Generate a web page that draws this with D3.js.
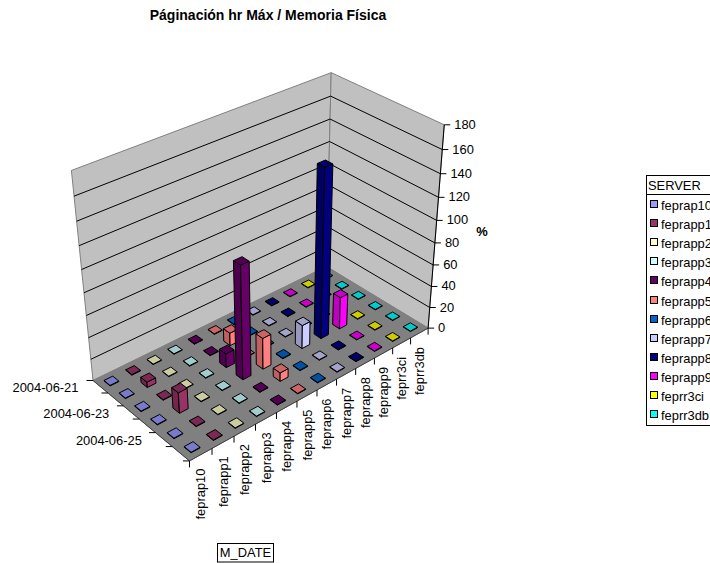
<!DOCTYPE html>
<html>
<head>
<meta charset="utf-8">
<script src="https://cdnjs.cloudflare.com/ajax/libs/d3/7.8.5/d3.min.js"></script>
<style>
html,body{margin:0;padding:0;background:#fff;overflow:hidden}
text{font-family:"Liberation Sans",Arial,sans-serif;fill:#000}
</style>
</head>
<body>
<svg id="chart" width="710" height="563"></svg>
<script>
const servers = ["feprap10","feprapp1","feprapp2","feprapp3","feprapp4","feprapp5","feprapp6","feprapp7","feprapp8","feprapp9","feprr3ci","feprr3db"];
const dates = ["2004-06-21","2004-06-22","2004-06-23","2004-06-24","2004-06-25","2004-06-26"];
const dateLabels = ["2004-06-21","2004-06-23","2004-06-25"];
const palette = ["#9999FF","#993366","#FFFFCC","#CCFFFF","#660066","#FF8080","#0066CC","#CCCCFF","#000080","#FF00FF","#FFFF00","#00FFFF"];

// Percent per day, one list per server, in date order
const feprap10 = [0.5,0.5,0.5,0.5,0.5,0.5];
const feprapp1 = [0.5,5,0.5,19,0.5,0.5];
const feprapp2 = [0.5,0.5,0.5,0.5,0.5,0.5];
const feprapp3 = [0.5,0.5,0.5,0.5,0.5,0.5];
const feprapp4 = [0.5,0.5,13,103,0.5,0.5];
const feprapp5 = [0.5,12,0.5,29,8,0.5];
const feprapp6 = [0.5,0.5,0.5,0.5,0.5,0.5];
const feprapp7 = [0.5,0.5,0.5,22,0.5,0.5];
const feprapp8 = [0.5,0.5,0.5,153,0.5,0.5];
const feprapp9 = [0.5,0.5,0.5,30,0.5,0.5];
const feprr3ci = [0.5,0.5,0.5,0.5,0.5,0.5];
const feprr3db = [0.5,0.5,0.5,0.5,0.5,0.5];
const seriesValues = [feprap10,feprapp1,feprapp2,feprapp3,feprapp4,feprapp5,feprapp6,feprapp7,feprapp8,feprapp9,feprr3ci,feprr3db];

const svg = d3.select("#chart");

// Box corners on screen: u runs along the servers, v along the dates, w up the value axis
const corners = [
  [0,1,0,190,462],[0,0,0,92,379],[1,1,0,427,327],[1,0,0,328,268],
  [0,0,1,72,171],[1,1,1,445,125],[1,0,1,330,72]
];

function solve(A, b) {
  const n = b.length, M = A.map((r,i)=>[...r,b[i]]);
  for (let c=0;c<n;c++) {
    let p=c; for (let r=c+1;r<n;r++) if (Math.abs(M[r][c])>Math.abs(M[p][c])) p=r;
    [M[c],M[p]]=[M[p],M[c]];
    for (let r=0;r<n;r++) if (r!==c) {
      const f=M[r][c]/M[c][c];
      for (let k=c;k<=n;k++) M[r][k]-=f*M[c][k];
    }
  }
  return M.map((r,i)=>r[n]/r[i]);
}

// Least-squares fit of the perspective camera to the visible box corners
function fitCamera(pts) {
  const rows=[], rhs=[];
  pts.forEach(([u,v,w,x,y])=>{
    x/=500; y/=500;
    rows.push([u,v,w,1,0,0,0,0,-x*u,-x*v,-x*w]); rhs.push(x);
    rows.push([0,0,0,0,u,v,w,1,-y*u,-y*v,-y*w]); rhs.push(y);
  });
  const N=d3.range(11).map(i=>d3.range(11).map(j=>d3.sum(rows,r=>r[i]*r[j])));
  const t=d3.range(11).map(i=>d3.sum(rows,(r,k)=>r[i]*rhs[k]));
  return solve(N,t);
}
const cam = fitCamera(corners);
function project(u,v,w) {
  const d = cam[8]*u+cam[9]*v+cam[10]*w+1;
  return [500*(cam[0]*u+cam[1]*v+cam[2]*w+cam[3])/d, 500*(cam[4]*u+cam[5]*v+cam[6]*w+cam[7])/d];
}

const uScale = d3.scaleBand().domain(servers).range([0,1]);
const vScale = d3.scaleBand().domain(dates).range([0,1]);
const zScale = d3.scaleLinear().domain([0,180]).range([0,1]);
const line = d3.line();
const poly = pts => line(pts)+"Z";
const labelSize = 12.9;

const wallLeft = [[0,0,0],[0,0,1],[1,0,1],[1,0,0]].map(p=>project(...p));
const wallRight = [[1,0,0],[1,0,1],[1,1,1],[1,1,0]].map(p=>project(...p));
const floor = [[0,0,0],[1,0,0],[1,1,0],[0,1,0]].map(p=>project(...p));

const g = svg.append("g");
g.selectAll("path.wall").data([wallLeft,wallRight,floor]).join("path")
  .attr("class","wall").attr("d",poly)
  .attr("fill",(d,i)=>i<2?"#C0C0C0":"#808080").attr("stroke","#808080").attr("stroke-width",1);

// Gridlines across both walls
const gridTicks = zScale.ticks(9);
g.selectAll("path.grid").data(gridTicks.filter(t=>t>0&&t<180)).join("path")
  .attr("class","grid").attr("fill","none").attr("stroke","#000").attr("stroke-width",1)
  .attr("d",t=>line([project(0,0,zScale(t)),project(1,0,zScale(t)),project(1,1,zScale(t))]));

// Value axis on the right-hand wall edge
g.append("path").attr("d",line([project(1,1,0),project(1,1,1)])).attr("stroke","#000").attr("fill","none");
const zt = g.selectAll("g.ztick").data(gridTicks).join("g").attr("class","ztick")
  .attr("transform",t=>`translate(${project(1,1,zScale(t))})`);
zt.append("line").attr("x2",6).attr("stroke","#000");
zt.append("text").attr("x",10).attr("y",4).attr("font-size",labelSize).text(d=>d);

// Floor edges with category ticks
g.append("path").attr("fill","none").attr("stroke","#404040")
  .attr("d",line([project(0,0,0),project(0,1,0),project(1,1,0)]));
d3.range(servers.length+1).forEach(i=>{
  const p=project(i/servers.length,1,0);
  g.append("line").attr("x1",p[0]).attr("y1",p[1]).attr("x2",p[0]).attr("y2",p[1]+6.5).attr("stroke","#000");
});
d3.range(dates.length+1).forEach(i=>{
  const p=project(0,i/dates.length,0);
  g.append("line").attr("x1",p[0]).attr("y1",p[1]).attr("x2",p[0]-6.5).attr("y2",p[1]).attr("stroke","#000");
});

// Server and date labels
servers.forEach(s=>{
  const p=project(uScale(s)+uScale.bandwidth()/2,1,0);
  g.append("text").attr("font-size",labelSize)
    .attr("transform",`translate(${p[0]+4.5},${p[1]+14}) rotate(-90)`)
    .attr("text-anchor","end").text(s);
});
dateLabels.forEach(d=>{
  const p=project(0,vScale(d)+vScale.bandwidth()/2,0);
  g.append("text").attr("font-size",labelSize).attr("x",p[0]-22).attr("y",p[1]+5.5).attr("text-anchor","end").text(d);
});

// Columns, far cells first so nearer ones paint over them
const barFraction = 0.4;
const cells = [];
dates.forEach((d,j)=>{
  for (let i=servers.length-1;i>=0;i--) cells.push({i,j,value:seriesValues[i][j]});
});
const shade = (c,k)=>{const r=d3.rgb(c);return d3.rgb(r.r*k,r.g*k,r.b*k).formatHex();};
cells.forEach(({i,j,value})=>{
  const du=uScale.bandwidth()*barFraction/2, dv=vScale.bandwidth()*barFraction/2;
  const cu=uScale(servers[i])+uScale.bandwidth()/2, cv=vScale(dates[j])+vScale.bandwidth()/2;
  const w=zScale(value), col=palette[i];
  const a=[cu-du,cv+dv], b=[cu+du,cv+dv], c=[cu+du,cv-dv], e=[cu-du,cv-dv];
  const bar=g.append("g").attr("stroke","#000").attr("stroke-width",1).attr("stroke-linejoin","round");
  bar.append("path").attr("fill",shade(col,0.75)).attr("d",poly([[...e,0],[...a,0],[...a,w],[...e,w]].map(p=>project(...p))));
  bar.append("path").attr("fill",col).attr("d",poly([[...a,0],[...b,0],[...b,w],[...a,w]].map(p=>project(...p))));
  bar.append("path").attr("fill",shade(col,0.8)).attr("d",poly([[...a,w],[...b,w],[...c,w],[...e,w]].map(p=>project(...p))));
});

// Title and axis captions
svg.append("text").attr("x",268).attr("y",20).attr("text-anchor","middle").attr("font-size",14).attr("font-weight","bold").text("Páginación hr Máx / Memoria Física");
svg.append("text").attr("x",482).attr("y",236).attr("text-anchor","middle").attr("font-size",labelSize).attr("font-weight","bold").text("%");
svg.append("rect").attr("x",217.5).attr("y",543.5).attr("width",56).attr("height",18.5).attr("fill","#fff").attr("stroke","#000");
svg.append("text").attr("x",245.5).attr("y",557).attr("text-anchor","middle").attr("font-size",labelSize).text("M_DATE");

// Legend
const lg = svg.append("g");
lg.append("rect").attr("x",646.5).attr("y",175.5).attr("width",80).attr("height",250).attr("fill","#fff").attr("stroke","#000");
lg.append("line").attr("x1",646.5).attr("x2",726).attr("y1",194.5).attr("y2",194.5).attr("stroke","#000");
lg.append("text").attr("x",648).attr("y",190).attr("font-size",labelSize).text("SERVER");
const item = lg.selectAll("g.item").data(servers).join("g").attr("class","item")
  .attr("transform",(d,i)=>`translate(0,${Math.round(205+i*19.1)})`);
item.append("rect").attr("x",650.5).attr("y",-4.5).attr("width",7).attr("height",7).attr("fill",(d,i)=>palette[i]).attr("stroke","#000");
item.append("text").attr("x",661).attr("y",4.5).attr("font-size",labelSize).text(d=>d);
</script>
</body>
</html>
